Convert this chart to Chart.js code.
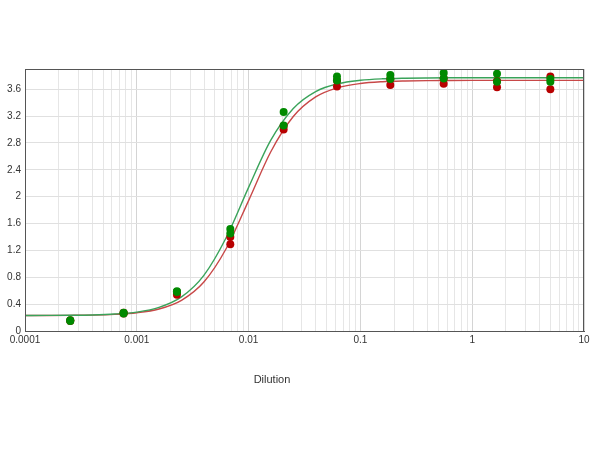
<!DOCTYPE html>
<html>
<head>
<meta charset="utf-8">
<script src="https://cdn.jsdelivr.net/npm/chart.js@4/dist/chart.umd.min.js"></script>
<style>
  body { margin: 0; background: #fff; }
  #wrap { position: relative; width: 600px; height: 450px; }
  #xtitle {
    position: absolute; left: 222px; top: 373px; width: 100px;
    text-align: center; font: 11px "Liberation Sans", Arial, sans-serif; color: #333;
  }
</style>
</head>
<body>
<div id="wrap">
  <canvas id="chart" width="600" height="450"></canvas>
  <div id="xtitle">Dilution</div>
</div>
<script>
// dilution series (3-fold) and replicate readings
const dilutions = [5, 1.667, 0.5556, 0.1852, 0.06173, 0.02058, 0.00686, 0.002286, 0.000762, 0.000254];
const greenRep1 = [3.75, 3.83, 3.84, 3.81, 3.79, 3.26, 1.52, 0.59, 0.27, 0.16];
const greenRep2 = [3.71, 3.71, 3.76, 3.75, 3.73, 3.06, 1.45, 0.58, 0.26, 0.15];
const redRep1 = [3.79, 3.72, 3.76, 3.75, 3.73, 3.05, 1.40, 0.58, 0.26, 0.16];
const redRep2 = [3.60, 3.63, 3.68, 3.66, 3.64, 3.00, 1.29, 0.54, 0.27, 0.15];

// fitted curves
const curveX = [0.0001, 0.000158, 0.000251, 0.000398, 0.000631, 0.001, 0.00158, 0.00251, 0.00398, 0.00631,
  0.01, 0.0158, 0.0251, 0.0398, 0.0631, 0.1, 0.158, 0.251, 0.398, 0.631, 1, 1.58, 2.51, 3.98, 6.31, 10];
const greenCurve = [0.231, 0.232, 0.234, 0.239, 0.252, 0.281, 0.351, 0.507, 0.828, 1.391,
  2.138, 2.840, 3.312, 3.564, 3.681, 3.732, 3.754, 3.763, 3.767, 3.769, 3.770, 3.770, 3.770, 3.770, 3.770, 3.770];
const redCurve = [0.231, 0.231, 0.233, 0.237, 0.248, 0.272, 0.328, 0.457, 0.729, 1.228,
  1.941, 2.668, 3.192, 3.484, 3.623, 3.685, 3.711, 3.722, 3.727, 3.729, 3.730, 3.730, 3.730, 3.730, 3.730, 3.730];

const yTicks = [0, 0.4, 0.8, 1.2, 1.6, 2, 2.4, 2.8, 3.2, 3.6];

const pts = (xs, ...reps) => reps.flatMap(r => r.map((y, i) => ({ x: xs[i], y })));
const curve = (xs, ys) => ys.map((y, i) => ({ x: xs[i], y }));

// frame round the plot area
const frame = {
  id: "frame",
  afterDraw(chart) {
    const a = chart.chartArea, ctx = chart.ctx;
    ctx.save();
    ctx.strokeStyle = "#555";
    ctx.lineWidth = 1;
    ctx.strokeRect(a.left + 0.5, a.top + 0.5, a.right - a.left - 1, a.bottom - a.top);
    ctx.restore();
  }
};

const isDecade = v => Math.abs(Math.log10(v) - Math.round(Math.log10(v))) < 1e-6;

new Chart(document.getElementById("chart"), {
  type: "scatter",
  data: {
    datasets: [
      { type: "line", data: curve(curveX, redCurve), borderColor: "#c84848", borderWidth: 1.4,
        pointRadius: 0, cubicInterpolationMode: "monotone", order: 4 },
      { type: "line", data: curve(curveX, greenCurve), borderColor: "#3aa35a", borderWidth: 1.4,
        pointRadius: 0, cubicInterpolationMode: "monotone", order: 3 },
      { data: pts(dilutions, redRep1, redRep2), backgroundColor: "#b80000", borderWidth: 0,
        pointRadius: 4, order: 2 },
      { data: pts(dilutions, greenRep1, greenRep2), backgroundColor: "#008a00", borderWidth: 0,
        pointRadius: 4, order: 1 }
    ]
  },
  options: {
    responsive: false,
    animation: false,
    layout: { padding: { left: 0, top: 69, right: 16, bottom: 99 } },
    plugins: { legend: { display: false }, tooltip: { enabled: false } },
    scales: {
      x: {
        type: "logarithmic",
        min: 0.0001,
        max: 10,
        afterBuildTicks(scale) {
          const t = [];
          for (let e = -4; e <= 1; e++) {
            for (let m = 1; m <= 9; m++) {
              const v = parseFloat((m * Math.pow(10, e)).toPrecision(6));
              if (v <= 10) t.push({ value: v });
            }
          }
          scale.ticks = t;
        },
        afterFit(scale) { scale.height = 20; },
        ticks: {
          autoSkip: false, maxRotation: 0, padding: 3,
          color: "#333", font: { family: "Liberation Sans", size: 10 },
          callback: v => (isDecade(v) ? String(v) : "")
        },
        grid: {
          drawTicks: false,
          color: ctx => (isDecade(ctx.tick.value) ? "#d4d4d4" : "#e6e6e6")
        },
        border: { color: "#555" }
      },
      y: {
        min: 0,
        max: 3.9,
        afterBuildTicks(scale) { scale.ticks = yTicks.map(v => ({ value: v })); },
        afterFit(scale) { scale.width = 25; },
        ticks: {
          padding: 4, color: "#333", font: { family: "Liberation Sans", size: 10 },
          callback: v => String(v)
        },
        grid: { drawTicks: false, color: "#e0e0e0" },
        border: { color: "#555" }
      }
    }
  },
  plugins: [frame]
});
</script>
</body>
</html>
